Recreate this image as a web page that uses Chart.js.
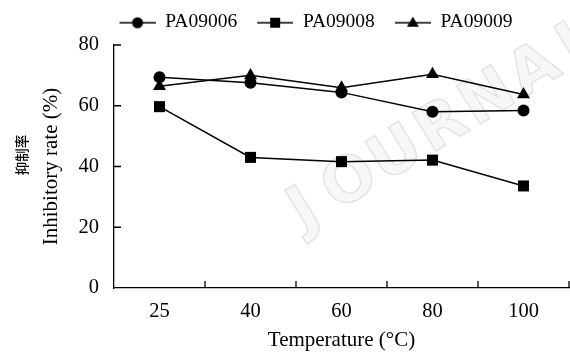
<!DOCTYPE html>
<html>
<head>
<meta charset="utf-8">
<script src="https://cdn.jsdelivr.net/npm/chart.js@4.4.1/dist/chart.umd.min.js"></script>
<style>
  html, body { margin: 0; padding: 0; background: #fff; }
  #wrap { width: 570px; height: 357px; }
</style>
</head>
<body>
<div id="wrap"><canvas id="chart"></canvas></div>
<script>
// temperatures (x categories)
const temps = ["25", "40", "60", "80", "100"];
// inhibitory rate (%)
const pa09006 = [69.4, 67.6, 64.4, 58.0, 58.4];
const pa09008 = [59.7, 43.0, 41.6, 42.1, 33.6];
const pa09009 = [66.4, 70.0, 65.9, 70.4, 63.7];
const yTicks = [0, 20, 40, 60, 80];

const SERIF = "'Liberation Serif', 'Times New Roman', serif";

// the markers are big, chart.js would keep ~8px free at the right edge for them;
// the figure's x axis runs almost to the border, so drop that reserve
Chart.registry.getController("line").prototype.getMaxOverflow = () => 0;

// little legend picture: line with the marker in the middle
function legendIcon(style) {
  const c = document.createElement("canvas");
  c.width = 46;
  c.height = 20;
  const g = c.getContext("2d");
  const cy = 11;
  g.strokeStyle = "#000";
  g.lineWidth = 1.5;
  g.beginPath();
  g.moveTo(10, cy);
  g.lineTo(46, cy);
  g.stroke();
  g.fillStyle = "#000";
  const cx = 28;
  if (style === "circle") {
    g.beginPath();
    g.arc(cx, cy, 5.5, 0, Math.PI * 2);
    g.fill();
  } else if (style === "rect") {
    g.fillRect(cx - 5, cy - 5, 10, 10);
  } else {
    g.beginPath();
    g.moveTo(cx, cy - 6);
    g.lineTo(cx + 6, cy + 4);
    g.lineTo(cx - 6, cy + 4);
    g.closePath();
    g.fill();
  }
  return c;
}

const series = [
  { label: "PA09006", data: pa09006, style: "circle", radius: 6 },
  { label: "PA09008", data: pa09008, style: "rect", radius: 7.8 },
  { label: "PA09009", data: pa09009, style: "triangle", radius: 7.5 },
];

// inward tick marks, watermark and the Chinese part of the y title
const extras = {
  id: "extras",
  afterLayout(chart) {
    // nudge the legend to where it sits in the figure
    chart.legend.left += 26.5;
    chart.legend.right += 26.5;
    chart.legend.top -= 3.5;
    chart.legend.bottom -= 3.5;
  },
  beforeDatasetsDraw(chart) {
    const ctx = chart.ctx;
    ctx.save();
    ctx.font = "bold 62px 'DejaVu Sans', sans-serif";
    ctx.fillStyle = "rgba(0,0,0,0.03)";
    ctx.strokeStyle = "rgba(0,0,0,0.10)";
    ctx.lineWidth = 1.5;
    "JOURNAL".split("").forEach((ch, i) => {
      ctx.save();
      ctx.translate(305 + i * 46, 212 - i * 28);
      ctx.rotate(-0.55);
      ctx.textAlign = "center";
      ctx.textBaseline = "middle";
      ctx.fillText(ch, 0, 0);
      ctx.strokeText(ch, 0, 0);
      ctx.restore();
    });
    ctx.restore();
  },
  afterDraw(chart) {
    const ctx = chart.ctx;
    const x = chart.scales.x;
    const y = chart.scales.y;
    const len = 7;
    ctx.save();
    ctx.strokeStyle = "#000";
    ctx.lineWidth = 1.3;
    ctx.beginPath();
    // x ticks sit between categories, pointing up
    for (let i = 0; i < temps.length; i++) {
      const px = i < temps.length - 1
        ? (x.getPixelForTick(i) + x.getPixelForTick(i + 1)) / 2
        : x.right;
      ctx.moveTo(px, x.top);
      ctx.lineTo(px, x.top - len);
    }
    // y ticks pointing right
    yTicks.forEach((v) => {
      if (v === 0) return;
      const py = y.getPixelForValue(v);
      ctx.moveTo(y.right, py);
      ctx.lineTo(y.right + len, py);
    });
    ctx.stroke();
    ctx.restore();

    ctx.save();
    ctx.fillStyle = "#000";
    ctx.font = "500 13.5px 'Noto Sans CJK SC', 'Noto Sans CJK JP', sans-serif";
    ctx.translate(21.5, 155);
    ctx.rotate(-Math.PI / 2);
    ctx.textAlign = "center";
    ctx.textBaseline = "middle";
    ctx.fillText("抑制率", 0, 0);
    ctx.restore();
  },
};

new Chart(document.getElementById("chart").getContext("2d"), {
  type: "line",
  data: {
    labels: temps,
    datasets: series.map((s) => ({
      label: s.label,
      data: s.data,
      borderColor: "#000",
      backgroundColor: "#000",
      borderWidth: 1.5,
      pointStyle: s.style,
      pointRadius: s.radius,
      pointBackgroundColor: "#000",
      pointBorderWidth: 0,
      fill: false,
      tension: 0,
      clip: false,
    })),
  },
  options: {
    responsive: true,
    maintainAspectRatio: false,
    animation: false,
    events: [],
    layout: { padding: { top: 5.5, right: 1, left: 0, bottom: 0 } },
    plugins: {
      tooltip: { enabled: false },
      legend: {
        position: "top",
        align: "center",
        labels: {
          usePointStyle: true,
          pointStyleWidth: 46,
          padding: 10,
          color: "#000",
          font: { family: SERIF, size: 19.5 },
          generateLabels: (chart) =>
            chart.data.datasets.map((ds, i) => ({
              text: ds.label,
              pointStyle: legendIcon(series[i].style),
              fillStyle: "#000",
              strokeStyle: "#000",
              lineWidth: 0,
              datasetIndex: i,
              fontColor: "#000",
            })),
        },
      },
    },
    scales: {
      x: {
        offset: true,
        grid: { display: false, drawTicks: false },
        border: { display: true, color: "#000", width: 1.3 },
        ticks: { color: "#000", padding: 11, font: { family: SERIF, size: 20.5 } },
        title: {
          display: true,
          text: "Temperature (°C)",
          color: "#000",
          padding: { top: 4, bottom: 4 },
          font: { family: SERIF, size: 21 },
        },
        afterFit: (scale) => {
          scale.height = 69;
          scale.paddingLeft = 0;
          scale.paddingRight = 0;
        },
      },
      y: {
        min: 0,
        max: 80,
        afterBuildTicks: (scale) => { scale.ticks = yTicks.map((v) => ({ value: v })); },
        grid: { display: false, drawTicks: false },
        border: { display: true, color: "#000", width: 1.3 },
        ticks: { color: "#000", padding: 15, font: { family: SERIF, size: 20.5 } },
        title: {
          display: true,
          text: "Inhibitory rate (%)",
          color: "#000",
          padding: { top: 39, bottom: 0 },
          font: { family: SERIF, size: 21 },
        },
        afterFit: (scale) => { scale.width = 114; },
      },
    },
  },
  plugins: [extras],
});
</script>
</body>
</html>
